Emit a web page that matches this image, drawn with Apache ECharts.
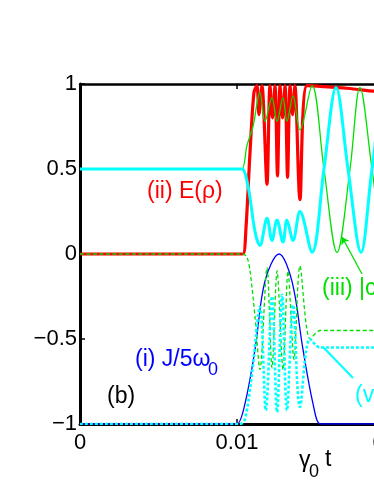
<!DOCTYPE html>
<html>
<head>
<meta charset="utf-8">
<script src="https://cdn.jsdelivr.net/npm/echarts@6/dist/echarts.min.js"></script>
<style>
  html, body { margin: 0; padding: 0; background: #fff; }
  #main { width: 374px; height: 484px; }
</style>
</head>
<body>
<div id="main"></div>
<script>
// values (time in units of gamma0 t)
var xTicks = [0, 0.01, 0.02];
var yTicks = [-1, -0.5, 0, 0.5, 1];

// (i) J/5w0
var blueT = [0, 0.0097, 0.0100, 0.01051, 0.01115, 0.01178, 0.01268, 0.0135, 0.0142, 0.01484, 0.01529, 0.0157, 0.025];
var blueY = [-1, -1, -1, -0.88, -0.56, -0.16, 0, -0.16, -0.56, -0.88, -1, -1, -1];

// (ii) E(rho)
var redT = [0, 0.0100, 0.01038, 0.01057, 0.01083, 0.01108, 0.01127, 0.0114, 0.01159, 0.01191, 0.0121, 0.01226, 0.01242, 0.01258, 0.01274, 0.0129, 0.01306, 0.01322, 0.01338, 0.01354, 0.01369, 0.01401, 0.01446, 0.0155, 0.017, 0.019, 0.022];
var redY = [0, 0, 0, 0.15, 0.6, 0.95, 0.99, 0.82, 0.99, 0.41, 0.99, 0.8, 0.99, 0.46, 0.99, 0.8, 0.99, 0.45, 0.99, 0.82, 0.99, 0.32, 0.99, 0.985, 0.975, 0.955, 0.93];

// (iii) green solid
var greenT = [0, 0.0100, 0.01032, 0.01064, 0.01102, 0.01146, 0.01178, 0.01223, 0.01255, 0.01293, 0.01318, 0.01357, 0.01401, 0.01478, 0.01554, 0.01637, 0.0172, 0.01783, 0.0186, 0.0194, 0.0202, 0.0209];
var greenY = [0.5, 0.5, 0.5, 0.64, 0.75, 0.95, 0.78, 0.92, 0.78, 0.92, 0.78, 0.93, 0.73, 0.99, 0.5, 0.01, 0.5, 0.98, 0.5, 0.01, 0.5, 0.98];

// cyan solid
var cyanT = [0, 0.0100, 0.01032, 0.0107, 0.01115, 0.01146, 0.01191, 0.01223, 0.01255, 0.01293, 0.01318, 0.01357, 0.01401, 0.01478, 0.01554, 0.01631, 0.01707, 0.0179, 0.0186, 0.0194, 0.0202];
var cyanY = [0.5, 0.5, 0.5, 0.4, 0.13, 0.05, 0.21, 0.08, 0.2, 0.07, 0.2, 0.08, 0.25, 0.01, 0.5, 0.98, 0.5, 0.01, 0.5, 0.98, 0.5];

// green dashed
var gdT = [0, 0.0100, 0.01038, 0.01064, 0.01083, 0.01115, 0.01146, 0.01191, 0.01223, 0.01255, 0.01293, 0.01325, 0.01363, 0.01401, 0.01465, 0.01529, 0.0157, 0.025];
var gdY = [0, 0, 0, -0.02, -0.1, -0.37, -0.68, -0.08, -0.67, -0.1, -0.68, -0.1, -0.62, -0.07, -0.5, -0.45, -0.45, -0.45];

// (v) cyan dotted
var cdT = [0, 0.0099, 0.01019, 0.01051, 0.01096, 0.01146, 0.01184, 0.01223, 0.01255, 0.01287, 0.01318, 0.01357, 0.01401, 0.01465, 0.01529, 0.0157, 0.025];
var cdY = [-1, -1, -1, -0.97, -0.7, -0.31, -0.92, -0.25, -0.93, -0.24, -0.92, -0.3, -0.9, -0.5, -0.55, -0.55, -0.55];

// pointer lines from labels (iii) and (v)
var arrowIII = [[0.01669, 0.1], [0.01796, -0.118]];
var pointerV = [[0.01548, -0.547], [0.01739, -0.729]];

function zip(t, y) {
    var out = [];
    for (var i = 0; i < t.length; i++) out.push([t[i], y[i]]);
    return out;
}

var FONT = '"Liberation Sans", Arial, sans-serif';

function lineSeries(name, t, y, color, width, type, smooth) {
    return {
        name: name,
        type: 'line',
        data: zip(t, y),
        showSymbol: false,
        smooth: smooth,
        clip: true,
        lineStyle: { color: color, width: width, type: type, cap: 'butt' },
        silent: true
    };
}

function label(text, x, y, color, size) {
    return { type: 'text', x: x, y: y, style: { text: text, fill: color, font: size + 'px ' + FONT, verticalAlign: 'middle' } };
}

var myChart = echarts.init(document.getElementById('main'), null, { renderer: 'canvas' });

var green = lineSeries('iii', greenT, greenY, '#00e000', 1.3, 'solid', 0.35);
green.markLine = {
    silent: true,
    symbol: ['arrow', 'none'],
    symbolSize: 7,
    label: { show: false },
    lineStyle: { color: '#00e000', width: 1.3, type: 'solid' },
    data: [[{ coord: arrowIII[0] }, { coord: arrowIII[1] }]]
};
var cyanDot = lineSeries('v', cdT, cdY, '#00ffff', 2.6, [3, 2], 0.35);
cyanDot.markLine = {
    silent: true,
    symbol: ['none', 'none'],
    label: { show: false },
    lineStyle: { color: '#00ffff', width: 2, type: 'solid' },
    data: [[{ coord: pointerV[0] }, { coord: pointerV[1] }]]
};

var option = {
    animation: false,
    backgroundColor: '#fff',
    grid: { left: 80, top: 84, width: 392.5, height: 340, show: false, outerBoundsMode: 'none', containLabel: false },
    xAxis: [{
        type: 'value',
        min: 0, max: 0.025, interval: 0.01,
        position: 'bottom',
        axisLine: { onZero: false, lineStyle: { color: '#000', width: 3 } },
        axisTick: { inside: true, length: 5, lineStyle: { color: '#000', width: 1.5 } },
        splitLine: { show: false },
        axisLabel: {
            color: '#000', fontSize: 22, fontFamily: FONT, margin: 8, hideOverlap: false,
            formatter: function (v) { return xTicks.indexOf(v) >= 0 ? String(v) : ''; }
        }
    }, {
        type: 'value',
        min: 0, max: 0.025, interval: 0.01,
        position: 'top',
        axisLine: { onZero: false, lineStyle: { color: '#000', width: 2.5 } },
        axisTick: { inside: true, length: 5, lineStyle: { color: '#000', width: 1.5 } },
        splitLine: { show: false },
        axisLabel: { show: false }
    }],
    yAxis: [{
        type: 'value',
        min: -1, max: 1, interval: 0.5,
        axisLine: { show: true, onZero: false, lineStyle: { color: '#000', width: 3 } },
        axisTick: { show: true, inside: true, length: 5, lineStyle: { color: '#000', width: 1.5 } },
        splitLine: { show: false },
        axisLabel: {
            color: '#000', fontSize: 22, fontFamily: FONT, margin: 3,
            formatter: function (v) { return yTicks.indexOf(v) >= 0 ? String(v).replace('-', '\u2212') : ''; }
        }
    }],
    series: [
        lineSeries('i', blueT, blueY, '#0000ff', 1.3, 'solid', 0.35),
        lineSeries('ii', redT, redY, '#ff0000', 3.2, 'solid', 0.3),
        green,
        lineSeries('cyan', cyanT, cyanY, '#00ffff', 3, 'solid', 0.35),
        lineSeries('gd', gdT, gdY, '#00e000', 1.3, [4, 2.5], 0.3),
        cyanDot
    ],
    graphic: [
        label('(ii) E(\u03c1)', 147, 192, '#ff0000', 23),
        label('(i) J/5\u03c9', 135, 360, '#0000ff', 23),
        label('0', 208, 370, '#0000ff', 18),
        label('(b)', 107, 397, '#000', 23),
        label('(iii) |c|\u00b2', 322, 289, '#00e000', 23),
        label('(v)', 355, 396, '#00ffff', 23),
        label('\u03b3', 299, 461, '#000', 23),
        label('0', 309, 472, '#000', 18),
        label('t', 325, 460, '#000', 23)
    ]
};
myChart.setOption(option);
</script>
</body>
</html>
